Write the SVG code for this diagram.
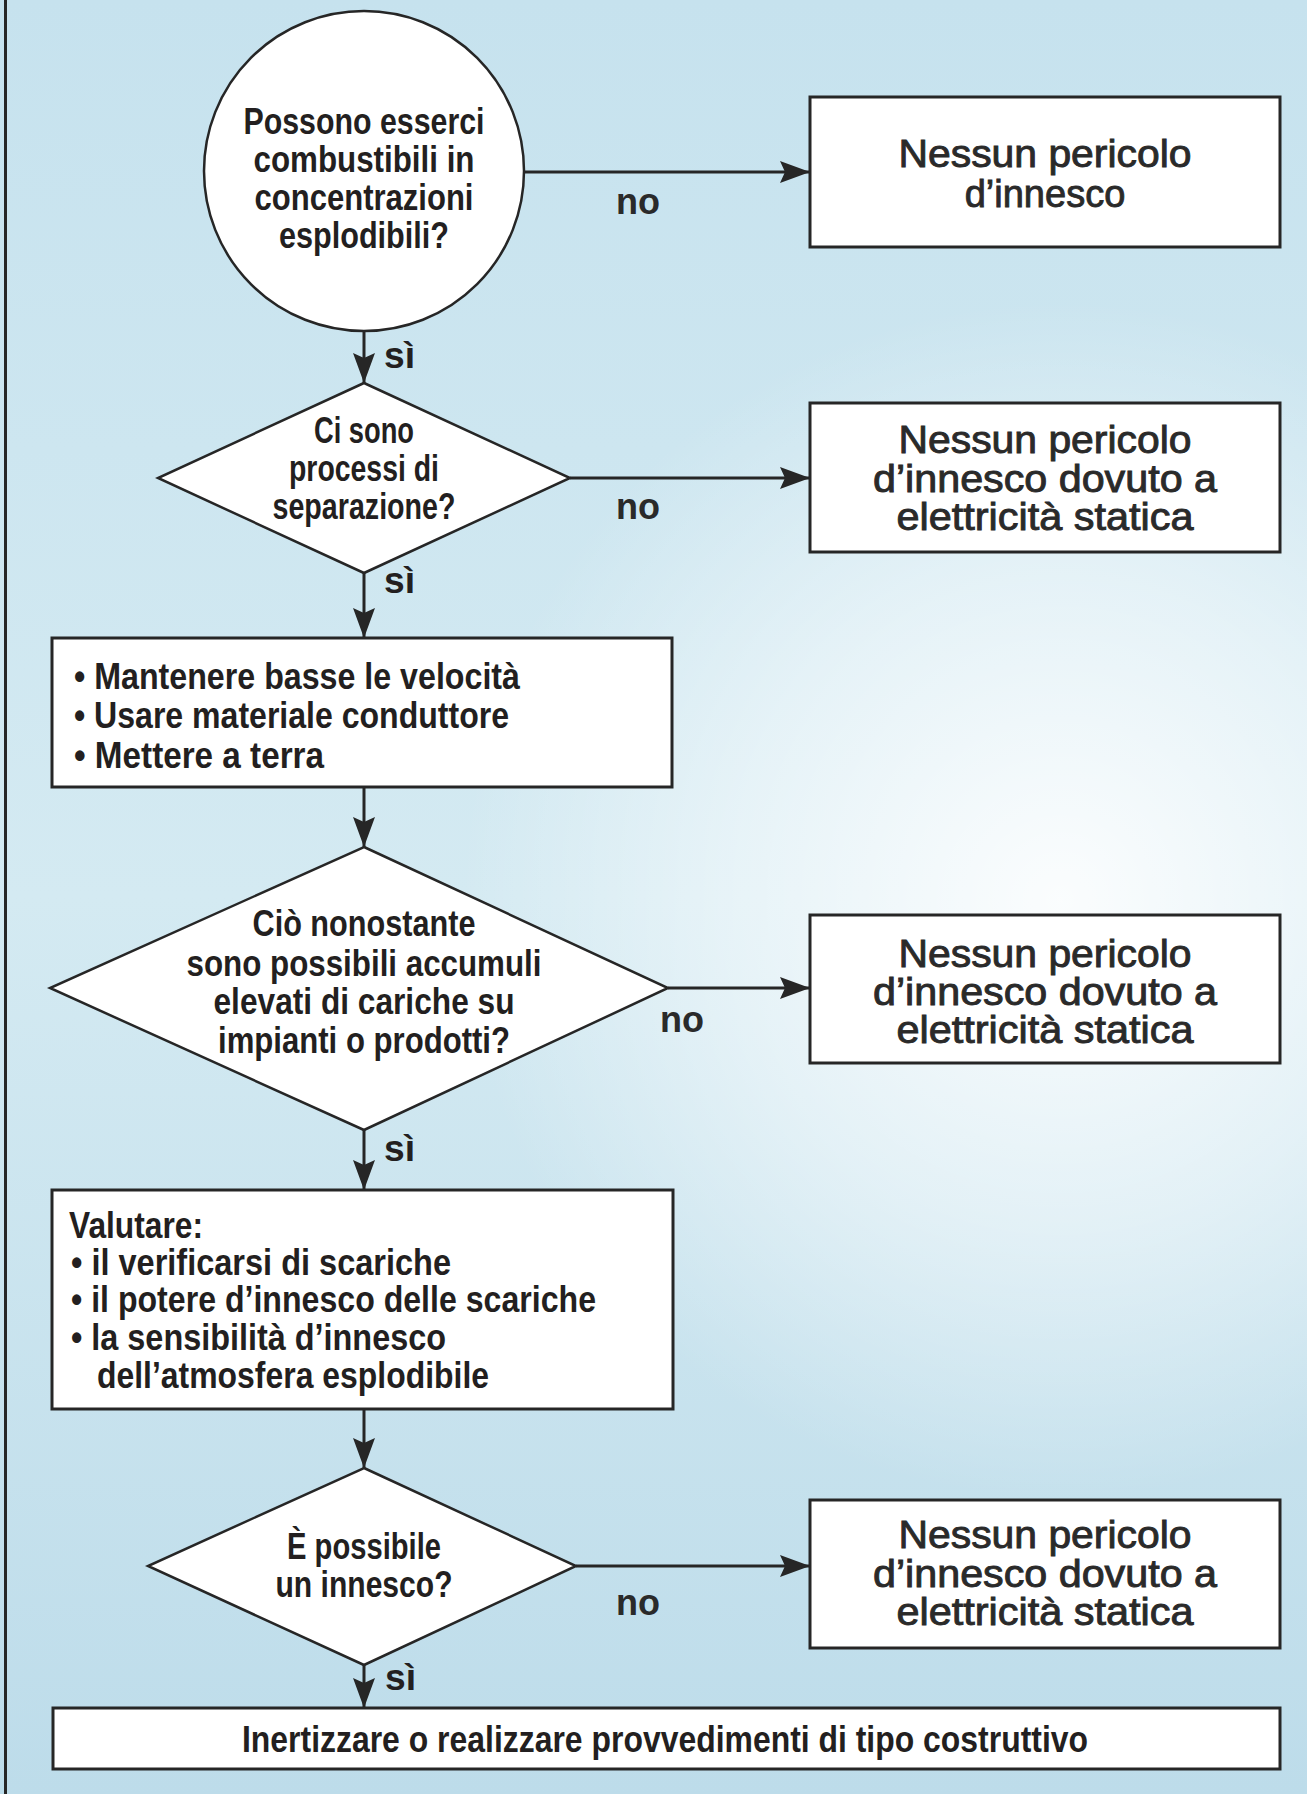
<svg xmlns="http://www.w3.org/2000/svg" width="1307" height="1794" viewBox="0 0 1307 1794">
  <defs>
    <linearGradient id="bgBase" x1="0" y1="0" x2="0" y2="1">
      <stop offset="0" stop-color="#c6e2ee"/>
      <stop offset="0.5" stop-color="#d4eaf2"/>
      <stop offset="1" stop-color="#bddcea"/>
    </linearGradient>
    <radialGradient id="bgGlow" cx="1060" cy="900" r="600" gradientUnits="userSpaceOnUse">
      <stop offset="0" stop-color="#ffffff" stop-opacity="0.9"/>
      <stop offset="0.55" stop-color="#ffffff" stop-opacity="0.45"/>
      <stop offset="1" stop-color="#ffffff" stop-opacity="0"/>
    </radialGradient>
    <marker id="arrow" markerUnits="userSpaceOnUse" markerWidth="30" markerHeight="22" refX="30" refY="11" orient="auto">
      <path d="M0,0 L30,11 L0,22 L5,11 z" fill="#262626"/>
    </marker>
    <style>
      .shape { fill: #ffffff; stroke: #262626; stroke-width: 3; }
      .thin { stroke-width: 2.5; }
      .link { fill: none; stroke: #262626; stroke-width: 3; marker-end: url(#arrow); }
      .cond { font-family: "Liberation Sans Narrow", "Liberation Sans", Arial, sans-serif; font-weight: bold; font-size: 37px; fill: #231f20; }
      .reg { font-family: "Liberation Sans", Arial, sans-serif; font-size: 38px; fill: #2a2a2a; stroke: #2a2a2a; stroke-width: 0.9; }
      .lbl { font-family: "Liberation Sans", Arial, sans-serif; font-weight: bold; font-size: 36px; fill: #2a2a2a; }
      .mid { text-anchor: middle; }
    </style>
  </defs>

  <!-- background -->
  <rect x="0" y="0" width="1307" height="1794" fill="url(#bgBase)"/>
  <rect x="0" y="0" width="1307" height="1794" fill="url(#bgGlow)"/>
  <line x1="5.5" y1="0" x2="5.5" y2="1794" stroke="#262626" stroke-width="3"/>

  <!-- connectors -->
  <g id="connectors">
    <line class="link" x1="524" y1="172" x2="810" y2="172"/>
    <line class="link" x1="364" y1="331" x2="364" y2="383"/>
    <line class="link" x1="570" y1="478" x2="810" y2="478"/>
    <line class="link" x1="364" y1="573" x2="364" y2="638"/>
    <line class="link" x1="364" y1="787" x2="364" y2="847"/>
    <line class="link" x1="668" y1="988" x2="810" y2="988"/>
    <line class="link" x1="364" y1="1130" x2="364" y2="1190"/>
    <line class="link" x1="364" y1="1409" x2="364" y2="1468"/>
    <line class="link" x1="576" y1="1566" x2="810" y2="1566"/>
    <line class="link" x1="364" y1="1665" x2="364" y2="1708"/>
    <text class="lbl" x="616" y="214">no</text>
    <text class="cond" x="384" y="368" textLength="31" lengthAdjust="spacingAndGlyphs">sì</text>
    <text class="lbl" x="616" y="519">no</text>
    <text class="cond" x="384" y="593" textLength="31" lengthAdjust="spacingAndGlyphs">sì</text>
    <text class="lbl" x="660" y="1032">no</text>
    <text class="cond" x="384" y="1161" textLength="31" lengthAdjust="spacingAndGlyphs">sì</text>
    <text class="lbl" x="616" y="1615">no</text>
    <text class="cond" x="385" y="1690" textLength="31" lengthAdjust="spacingAndGlyphs">sì</text>
  </g>

  <!-- start question -->
  <g id="q-combustibili">
    <circle class="shape thin" cx="364" cy="171" r="160"/>
    <text class="cond mid" x="364" y="134" textLength="241" lengthAdjust="spacingAndGlyphs">Possono esserci</text>
    <text class="cond mid" x="364" y="172" textLength="221" lengthAdjust="spacingAndGlyphs">combustibili in</text>
    <text class="cond mid" x="364" y="210" textLength="219" lengthAdjust="spacingAndGlyphs">concentrazioni</text>
    <text class="cond mid" x="364" y="248" textLength="170" lengthAdjust="spacingAndGlyphs">esplodibili?</text>
  </g>

  <g id="r-nessun-1">
    <rect class="shape" x="810" y="97" width="470" height="150"/>
    <text class="reg mid" x="1045" y="167" textLength="293" lengthAdjust="spacingAndGlyphs">Nessun pericolo</text>
    <text class="reg mid" x="1045" y="207">d’innesco</text>
  </g>

  <g id="q-separazione">
    <polygon class="shape thin" points="364,383 570,478 364,573 158,478"/>
    <text class="cond mid" x="364" y="443" textLength="100" lengthAdjust="spacingAndGlyphs">Ci sono</text>
    <text class="cond mid" x="364" y="481" textLength="150" lengthAdjust="spacingAndGlyphs">processi di</text>
    <text class="cond mid" x="364" y="519" textLength="183" lengthAdjust="spacingAndGlyphs">separazione?</text>
  </g>

  <g id="r-nessun-2">
    <rect class="shape" x="810" y="403" width="470" height="149"/>
    <text class="reg mid" x="1045" y="453" textLength="293" lengthAdjust="spacingAndGlyphs">Nessun pericolo</text>
    <text class="reg mid" x="1045" y="492" textLength="344" lengthAdjust="spacingAndGlyphs">d’innesco dovuto a</text>
    <text class="reg mid" x="1045" y="530" textLength="297" lengthAdjust="spacingAndGlyphs">elettricità statica</text>
  </g>

  <g id="a-misure">
    <rect class="shape" x="52" y="638" width="620" height="149"/>
    <text class="cond" x="74" y="689" textLength="446" lengthAdjust="spacingAndGlyphs">• Mantenere basse le velocità</text>
    <text class="cond" x="74" y="728" textLength="435" lengthAdjust="spacingAndGlyphs">• Usare materiale conduttore</text>
    <text class="cond" x="74" y="768" textLength="250" lengthAdjust="spacingAndGlyphs">• Mettere a terra</text>
  </g>

  <g id="q-accumuli">
    <polygon class="shape thin" points="364,847 668,988 364,1130 50,988"/>
    <text class="cond mid" x="364" y="936" textLength="223" lengthAdjust="spacingAndGlyphs">Ciò nonostante</text>
    <text class="cond mid" x="364" y="976" textLength="355" lengthAdjust="spacingAndGlyphs">sono possibili accumuli</text>
    <text class="cond mid" x="364" y="1014" textLength="301" lengthAdjust="spacingAndGlyphs">elevati di cariche su</text>
    <text class="cond mid" x="364" y="1053" textLength="292" lengthAdjust="spacingAndGlyphs">impianti o prodotti?</text>
  </g>

  <g id="r-nessun-3">
    <rect class="shape" x="810" y="915" width="470" height="148"/>
    <text class="reg mid" x="1045" y="967" textLength="293" lengthAdjust="spacingAndGlyphs">Nessun pericolo</text>
    <text class="reg mid" x="1045" y="1005" textLength="344" lengthAdjust="spacingAndGlyphs">d’innesco dovuto a</text>
    <text class="reg mid" x="1045" y="1043" textLength="297" lengthAdjust="spacingAndGlyphs">elettricità statica</text>
  </g>

  <g id="a-valutare">
    <rect class="shape" x="52" y="1190" width="621" height="219"/>
    <text class="cond" x="69" y="1238" textLength="134" lengthAdjust="spacingAndGlyphs">Valutare:</text>
    <text class="cond" x="71" y="1275" textLength="380" lengthAdjust="spacingAndGlyphs">• il verificarsi di scariche</text>
    <text class="cond" x="71" y="1312" textLength="525" lengthAdjust="spacingAndGlyphs">• il potere d’innesco delle scariche</text>
    <text class="cond" x="71" y="1350" textLength="375" lengthAdjust="spacingAndGlyphs">• la sensibilità d’innesco</text>
    <text class="cond" x="97" y="1388" textLength="392" lengthAdjust="spacingAndGlyphs">dell’atmosfera esplodibile</text>
  </g>

  <g id="q-innesco">
    <polygon class="shape thin" points="364,1468 576,1566 364,1665 148,1566"/>
    <text class="cond mid" x="364" y="1559" textLength="154" lengthAdjust="spacingAndGlyphs">È possibile</text>
    <text class="cond mid" x="364" y="1597" textLength="177" lengthAdjust="spacingAndGlyphs">un innesco?</text>
  </g>

  <g id="r-nessun-4">
    <rect class="shape" x="810" y="1500" width="470" height="148"/>
    <text class="reg mid" x="1045" y="1548" textLength="293" lengthAdjust="spacingAndGlyphs">Nessun pericolo</text>
    <text class="reg mid" x="1045" y="1587" textLength="344" lengthAdjust="spacingAndGlyphs">d’innesco dovuto a</text>
    <text class="reg mid" x="1045" y="1625" textLength="297" lengthAdjust="spacingAndGlyphs">elettricità statica</text>
  </g>

  <g id="a-inertizzare">
    <rect class="shape" x="53" y="1708" width="1227" height="61"/>
    <text class="cond mid" x="665" y="1752" textLength="846" lengthAdjust="spacingAndGlyphs">Inertizzare o realizzare provvedimenti di tipo costruttivo</text>
  </g>
</svg>
